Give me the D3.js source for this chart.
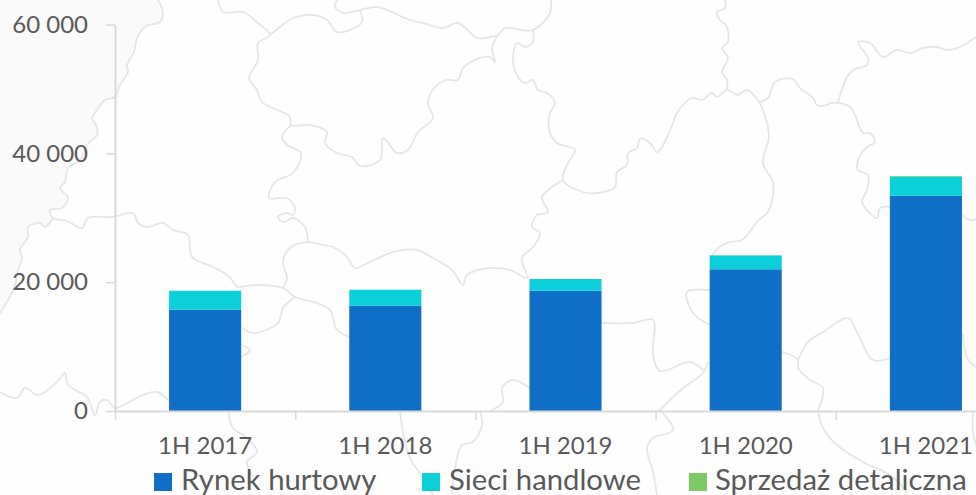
<!DOCTYPE html>
<html><head><meta charset="utf-8">
<script src="https://cdn.jsdelivr.net/npm/d3@7"></script>
<style>html,body{margin:0;padding:0;background:#fefefe;overflow:hidden}svg{display:block}text{font-family:Lato,sans-serif;fill:#595959}</style>
</head><body><svg id="c" width="976" height="495"></svg>
<script>
const categories=["1H 2017","1H 2018","1H 2019","1H 2020","1H 2021"];
const rynekHurtowy=[15730,16350,18670,22000,33420];
const sieciHandlowe=[2940,2480,1820,2150,2960];
const sprzedazDetaliczna=[0,0,0,40,110];
const seriesNames=["Rynek hurtowy","Sieci handlowe","Sprzedaż detaliczna"];
const seriesColors=["#0F6FC6","#0BD0D9","#7CCA62"];
const yTicks=[0,20000,40000,60000];
// Decorative backdrop: faint regional map outlines
const shadedRegion=[[0,0],[158,0],[163,12],[160,22],[146,26],[137,38],[134,52],[127,65],[128,72],[120,85],[115,97],[105,100],[95,113],[92,118],[97,127],[97,135],[87,145],[80,160],[68,168],[65,182],[60,188],[68,198],[62,208],[50,210],[53,218],[45,227],[40,223],[28,227],[28,237],[20,250],[22,258],[18,270],[15,285],[8,300],[0,313]];
const mapBorders=[
[[158,0],[163,12],[160,22],[146,26],[137,38],[134,52],[127,65],[128,72],[120,85],[115,97],[105,100],[95,113],[92,118],[97,127],[97,135],[87,145],[80,160],[68,168],[65,182],[60,188],[68,198],[62,208],[50,210],[53,218],[67,221],[82,228],[88,218],[113,217],[133,213],[138,223],[147,227],[163,223],[173,230],[188,235],[190,250],[193,258],[213,267],[227,275],[238,288]],
[[53,218],[45,227],[40,223],[28,227],[28,237],[20,250],[22,258],[18,270],[15,285],[8,300],[0,313]],
[[240,287],[257,285],[283,288],[295,297],[317,303],[330,310],[337,330],[350,337]],
[[295,297],[283,308],[278,323],[253,333],[243,328]],
[[241,345],[250,350],[241,357]],
[[283,288],[287,278],[283,262],[290,248],[308,242],[323,245],[333,247],[347,257],[355,268],[370,262],[393,252],[417,250],[433,258],[452,270],[463,285],[467,275],[490,268],[510,270],[527,278],[522,258],[533,247],[540,233],[532,227],[537,215],[548,212],[542,197],[563,180]],
[[0,392],[17,398],[25,388],[38,395],[57,382],[65,373],[68,385],[87,397],[95,415],[100,402],[107,400],[115,408],[127,403],[143,395],[157,392],[170,402]],
[[228,411],[233,428],[247,438],[257,452],[247,462],[252,475]],
[[400,411],[403,432],[410,458],[423,478],[433,495]],
[[480,411],[482,425],[473,442],[462,445],[457,458],[452,495]],
[[660,410],[673,430],[653,438],[647,448],[653,472],[657,495]],
[[818,410],[823,428],[837,445],[863,462],[890,475],[907,492]],
[[660,410],[683,388],[703,373],[708,362]],
[[602,323],[633,323],[653,320],[653,355],[660,371],[690,362],[703,370]],
[[530,388],[512,380],[502,388],[503,402],[490,411]],
[[710,290],[687,292],[693,313],[710,325]],
[[783,352],[798,360],[798,368],[810,380],[823,388],[818,410]],
[[798,360],[808,342],[823,332],[848,318],[857,332],[873,360],[890,358]],
[[963,335],[967,358],[976,367]],
[[973,411],[973,432],[976,445]],
[[551,0],[550,13],[533,30],[505,28],[498,35],[490,37],[477,38],[458,23],[443,28],[423,23],[410,20],[377,7],[360,10],[343,13],[335,7],[337,0]],
[[498,35],[492,48],[495,62],[490,57],[480,58],[463,68],[458,80],[447,80],[435,87],[428,103],[433,118],[418,132],[408,150],[397,153],[383,138],[380,160],[360,166],[352,157],[337,153],[325,143],[327,132],[310,125],[291,125],[290,117],[262,102],[257,90],[249,78],[258,60],[258,43],[270,35],[258,23],[243,12],[223,12],[218,0]],
[[360,10],[362,22],[350,30],[337,32],[327,20],[313,15],[293,18],[280,27],[270,35]],
[[291,125],[282,137],[287,145],[301,153],[293,173],[275,182],[269,198],[287,198],[295,208],[293,215],[287,213],[278,217],[283,222],[293,218],[305,227],[308,242]],
[[533,30],[533,42],[525,47],[517,43],[513,60],[518,77],[525,83],[533,80],[538,90],[547,93],[555,103],[550,113],[549,130],[557,143],[575,150],[568,163],[563,180],[583,192],[598,193],[615,187],[617,172],[627,165],[628,153],[637,148],[640,139],[650,143],[657,152],[662,147],[673,123],[677,113],[692,98],[702,100],[712,93],[717,97],[727,90],[738,95],[747,90],[759,102],[767,123],[769,137],[763,163],[773,183],[769,210],[757,222],[742,240],[730,242],[718,248],[712,256]],
[[727,90],[727,80],[722,72],[728,58],[722,48],[728,42],[726,25],[720,20],[717,12],[725,8],[725,0]],
[[759,102],[768,98],[775,82],[793,79],[800,88],[813,98],[817,105],[827,105],[830,103],[850,107],[863,133],[870,133],[875,142],[867,147],[858,160],[858,170],[868,175],[867,190],[862,202],[877,218],[880,208],[892,207]],
[[838,102],[847,77],[853,70],[867,65],[868,58],[858,42],[870,43],[883,57],[897,50],[910,53],[923,48],[937,47],[947,50],[960,47],[976,37]],
[[962,215],[970,220],[976,219]]
];
const svg=d3.select("#c");
svg.append("path").attr("d",d3.line()(shadedRegion)+"Z").attr("fill","#fafafa");
svg.append("g").selectAll("path").data(mapBorders).join("path")
  .attr("d",d3.line().curve(d3.curveCatmullRom.alpha(0.5)))
  .attr("fill","none").attr("stroke","#e6e6e6").attr("stroke-width",1.8).attr("stroke-linejoin","round").attr("stroke-linecap","round");

const x=d3.scaleBand().domain(categories).range([115,1016]).paddingInner(0.6).paddingOuter(0.3);
const y=d3.scaleLinear().domain([0,60000]).range([411,24.5]);
const fmt=d3.formatLocale({decimal:",",thousands:"\u00a0",grouping:[3],currency:["",""]}).format(",d");

const rows=categories.map((c,i)=>({c,a:rynekHurtowy[i],b:sieciHandlowe[i],d:sprzedazDetaliczna[i]}));
const stacked=d3.stack().keys(["a","b","d"])(rows);
svg.append("g").selectAll("g").data(stacked).join("g").attr("fill",(d,i)=>seriesColors[i])
  .selectAll("rect").data(d=>d).join("rect")
  .attr("x",d=>x(d.data.c)).attr("width",x.bandwidth())
  .attr("y",d=>y(d[1])).attr("height",d=>y(d[0])-y(d[1]));

const yAxis=svg.append("g").attr("transform","translate(115,0)")
  .call(d3.axisLeft(y).tickValues(yTicks).tickFormat(fmt).tickSize(9).tickSizeOuter(0).tickPadding(18));
const edges=d3.scaleLinear().domain([0,categories.length]).range(x.range());
const xTickAxis=svg.append("g").attr("transform","translate(0,411)")
  .call(d3.axisBottom(edges).tickValues(d3.range(categories.length+1)).tickFormat("").tickSize(9).tickSizeOuter(0));
const xAxis=svg.append("g").attr("transform","translate(0,411)")
  .call(d3.axisBottom(x).tickSize(0).tickPadding(26));
xAxis.select(".domain").remove();
[yAxis,xTickAxis].forEach(g=>{g.selectAll(".domain,line").attr("stroke","#d9d9d9").attr("stroke-width",2);});
yAxis.selectAll("line").attr("stroke-width",1.5);
xTickAxis.selectAll("line").attr("stroke-width",1.5);
yAxis.selectAll("text").attr("font-size",24).style("font-family","Lato,sans-serif").style("fill","#595959");
xAxis.selectAll("text").attr("font-size",24).style("font-family","Lato,sans-serif").style("fill","#595959");

const legendSwatchX=[154,422,689],legendTextX=[181,449,715];
const lg=svg.append("g").selectAll("g").data(seriesNames).join("g");
lg.append("rect").attr("x",(d,i)=>legendSwatchX[i]).attr("y",473).attr("width",18).attr("height",18).attr("fill",(d,i)=>seriesColors[i]);
lg.append("text").attr("x",(d,i)=>legendTextX[i]).attr("y",490).attr("font-size",29.3).text(d=>d);
</script></body></html>
